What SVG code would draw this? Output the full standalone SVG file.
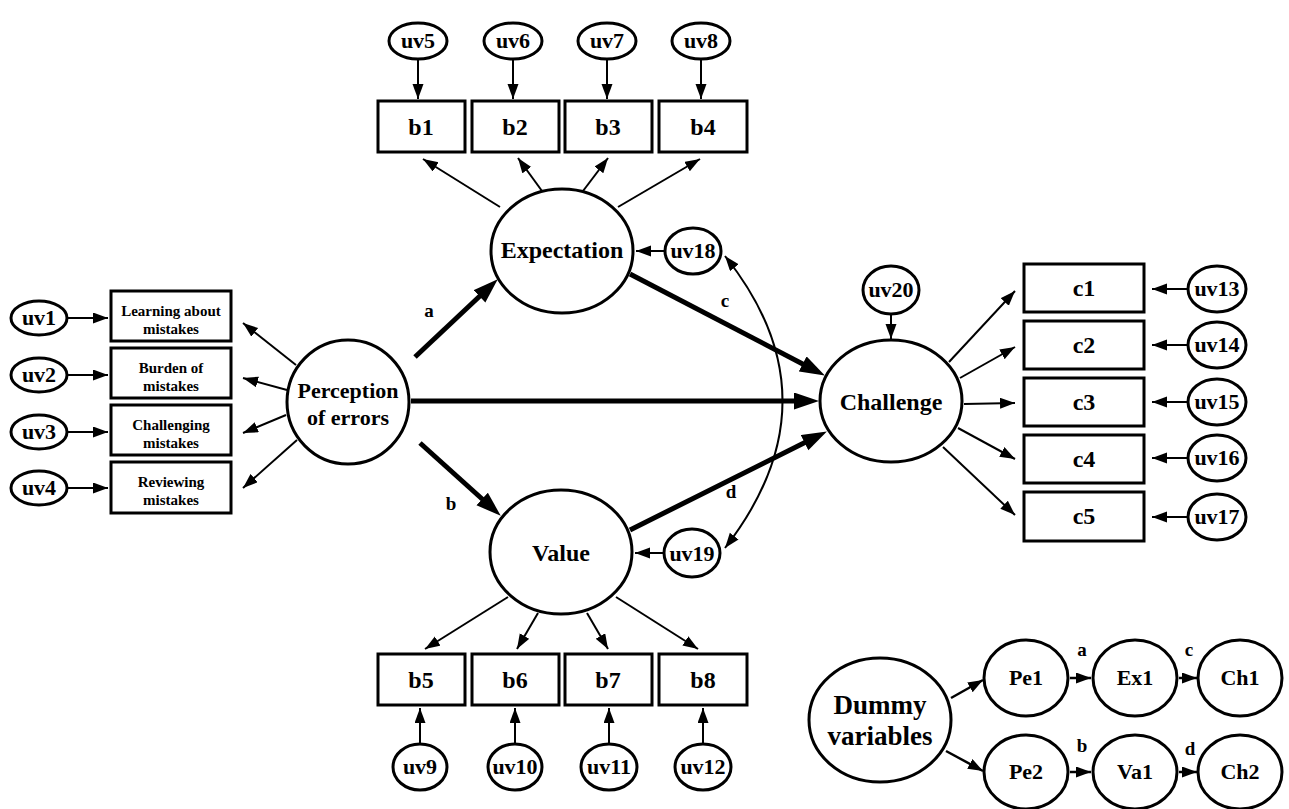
<svg xmlns="http://www.w3.org/2000/svg" width="1289" height="809" viewBox="0 0 1289 809" font-family="'Liberation Serif', 'DejaVu Serif', serif">
<defs>
<marker id="ah" markerUnits="userSpaceOnUse" markerWidth="16" markerHeight="12" refX="15" refY="5.5" orient="auto-start-reverse"><path d="M0,0 L15,5.5 L0,11 z" fill="#000"/></marker>
<marker id="ahk" markerUnits="userSpaceOnUse" markerWidth="26" markerHeight="18" refX="6" refY="8.5" orient="auto"><path d="M0,0 L25,8.5 L0,17 z" fill="#000"/></marker>
</defs>
<style>
.n ellipse,.n rect{fill:#fff;stroke:#000;stroke-width:3}
text{font-family:'Liberation Serif','DejaVu Serif',serif;font-weight:bold;fill:#000;text-anchor:middle}
.uv{font-size:22px}
.ind{font-size:24px}
.lat{font-size:24px}
.sm{font-size:15px}
.lbl{font-size:19px}
.thin{stroke:#000;stroke-width:2;fill:none;marker-end:url(#ah)}
.thick{stroke:#000;stroke-width:5;fill:none;marker-end:url(#ahk)}
.dm{stroke:#000;stroke-width:2.5;fill:none;marker-end:url(#ah)}
</style>
<g id="connectors">
<line class="thin" x1="68" y1="318" x2="108" y2="318"/>
<line class="thin" x1="68" y1="375" x2="108" y2="375"/>
<line class="thin" x1="68" y1="432" x2="108" y2="432"/>
<line class="thin" x1="68" y1="488" x2="108" y2="488"/>
<line class="thin" x1="296" y1="365" x2="243" y2="323"/>
<line class="thin" x1="287" y1="390" x2="243" y2="378"/>
<line class="thin" x1="286" y1="415" x2="243" y2="433"/>
<line class="thin" x1="297" y1="440" x2="243" y2="488"/>
<line class="thin" x1="418" y1="60" x2="418" y2="99"/>
<line class="thin" x1="513" y1="60" x2="513" y2="99"/>
<line class="thin" x1="607" y1="60" x2="607" y2="99"/>
<line class="thin" x1="701" y1="60" x2="701" y2="99"/>
<line class="thin" x1="500" y1="207" x2="423" y2="159"/>
<line class="thin" x1="542" y1="191" x2="518" y2="158"/>
<line class="thin" x1="583" y1="191" x2="608" y2="158"/>
<line class="thin" x1="618" y1="207" x2="700" y2="159"/>
<line class="thin" x1="508" y1="597" x2="425" y2="649"/>
<line class="thin" x1="538" y1="613" x2="517" y2="649"/>
<line class="thin" x1="587" y1="613" x2="608" y2="649"/>
<line class="thin" x1="616" y1="597" x2="698" y2="649"/>
<line class="thin" x1="420" y1="743" x2="420" y2="708"/>
<line class="thin" x1="515" y1="743" x2="515" y2="708"/>
<line class="thin" x1="609" y1="743" x2="609" y2="708"/>
<line class="thin" x1="703" y1="743" x2="703" y2="708"/>
<line class="thin" x1="664" y1="251" x2="636" y2="251"/>
<line class="thin" x1="663" y1="553" x2="635" y2="553"/>
<line class="thin" x1="891" y1="315" x2="891" y2="339"/>
<path d="M725,256 Q840,400 725,548" stroke="#000" stroke-width="2" fill="none" marker-start="url(#ah)" marker-end="url(#ah)"/>
<line class="thick" x1="415" y1="357" x2="483.9" y2="292.3"/>
<line class="thick" x1="420" y1="443" x2="486.6" y2="503"/>
<line class="thick" x1="411" y1="401" x2="800" y2="401"/>
<line class="thick" x1="630" y1="274" x2="808" y2="366.7"/>
<line class="thick" x1="630" y1="530" x2="809.9" y2="440"/>
<line class="thin" x1="949" y1="362" x2="1015" y2="291"/>
<line class="thin" x1="960" y1="378" x2="1015" y2="347"/>
<line class="thin" x1="964" y1="404" x2="1015" y2="403"/>
<line class="thin" x1="958" y1="428" x2="1015" y2="459"/>
<line class="thin" x1="943" y1="447" x2="1015" y2="515"/>
<line class="thin" x1="1187" y1="289" x2="1152" y2="289"/>
<line class="thin" x1="1187" y1="345" x2="1152" y2="345"/>
<line class="thin" x1="1187" y1="402" x2="1152" y2="402"/>
<line class="thin" x1="1187" y1="458" x2="1152" y2="458"/>
<line class="thin" x1="1187" y1="517" x2="1152" y2="517"/>
<line class="dm" x1="951" y1="698" x2="983" y2="680"/>
<line class="dm" x1="946" y1="751" x2="983" y2="771"/>
<line class="dm" x1="1070" y1="678" x2="1091" y2="678"/>
<line class="dm" x1="1179" y1="678" x2="1197" y2="678"/>
<line class="dm" x1="1070" y1="772" x2="1091" y2="772"/>
<line class="dm" x1="1179" y1="772" x2="1197" y2="772"/>
<text class="lbl" x="429" y="317">a</text>
<text class="lbl" x="451" y="510">b</text>
<text class="lbl" x="725" y="307">c</text>
<text class="lbl" x="731" y="498">d</text>
<text class="lbl" x="1082" y="656">a</text>
<text class="lbl" x="1189" y="656">c</text>
<text class="lbl" x="1082" y="752">b</text>
<text class="lbl" x="1190" y="755">d</text>
</g>
<g id="uv1" class="n"><ellipse cx="39" cy="318" rx="28" ry="17"/><text class="uv" x="39" y="325">uv1</text></g>
<g id="uv2" class="n"><ellipse cx="39" cy="375" rx="28" ry="17"/><text class="uv" x="39" y="382">uv2</text></g>
<g id="uv3" class="n"><ellipse cx="39" cy="432" rx="28" ry="17"/><text class="uv" x="39" y="439">uv3</text></g>
<g id="uv4" class="n"><ellipse cx="39" cy="488" rx="28" ry="17"/><text class="uv" x="39" y="495">uv4</text></g>
<g id="learning" class="n"><rect x="111" y="291" width="120" height="50"/><text class="sm" x="171" y="316">Learning about</text><text class="sm" x="171" y="334">mistakes</text></g>
<g id="burden" class="n"><rect x="111" y="348" width="120" height="50"/><text class="sm" x="171" y="373">Burden of</text><text class="sm" x="171" y="391">mistakes</text></g>
<g id="challenging" class="n"><rect x="111" y="405" width="120" height="50"/><text class="sm" x="171" y="430">Challenging</text><text class="sm" x="171" y="448">mistakes</text></g>
<g id="reviewing" class="n"><rect x="111" y="462" width="120" height="51"/><text class="sm" x="171" y="487">Reviewing</text><text class="sm" x="171" y="505">mistakes</text></g>
<g id="perception" class="n"><ellipse cx="348" cy="402" rx="61" ry="62"/><text style="font-size:22px" x="348" y="398">Perception</text><text style="font-size:22px" x="348" y="425">of errors</text></g>
<g id="uv5" class="n"><ellipse cx="418" cy="41" rx="29" ry="18"/><text class="uv" x="418" y="48">uv5</text></g>
<g id="uv6" class="n"><ellipse cx="513" cy="41" rx="29" ry="18"/><text class="uv" x="513" y="48">uv6</text></g>
<g id="uv7" class="n"><ellipse cx="607" cy="41" rx="29" ry="18"/><text class="uv" x="607" y="48">uv7</text></g>
<g id="uv8" class="n"><ellipse cx="701" cy="41" rx="29" ry="18"/><text class="uv" x="701" y="48">uv8</text></g>
<g id="b1" class="n"><rect x="378" y="101" width="87" height="51"/><text class="ind" x="421" y="135">b1</text></g>
<g id="b2" class="n"><rect x="472" y="101" width="87" height="51"/><text class="ind" x="515" y="135">b2</text></g>
<g id="b3" class="n"><rect x="565" y="101" width="87" height="51"/><text class="ind" x="608" y="135">b3</text></g>
<g id="b4" class="n"><rect x="659" y="101" width="88" height="51"/><text class="ind" x="703" y="135">b4</text></g>
<g id="expectation" class="n"><ellipse cx="562" cy="251" rx="71" ry="62"/><text class="lat" x="562" y="258">Expectation</text></g>
<g id="uv18" class="n"><ellipse cx="693" cy="251" rx="28" ry="23"/><text class="uv" x="693" y="258">uv18</text></g>
<g id="value" class="n"><ellipse cx="561" cy="552" rx="71" ry="62"/><text class="lat" x="561" y="561">Value</text></g>
<g id="uv19" class="n"><ellipse cx="692" cy="553" rx="28" ry="24"/><text class="uv" x="692" y="561">uv19</text></g>
<g id="b5" class="n"><rect x="378" y="654" width="87" height="51"/><text class="ind" x="421" y="688">b5</text></g>
<g id="b6" class="n"><rect x="472" y="654" width="87" height="51"/><text class="ind" x="515" y="688">b6</text></g>
<g id="b7" class="n"><rect x="565" y="654" width="87" height="51"/><text class="ind" x="608" y="688">b7</text></g>
<g id="b8" class="n"><rect x="659" y="654" width="88" height="51"/><text class="ind" x="703" y="688">b8</text></g>
<g id="uv9" class="n"><ellipse cx="420" cy="767" rx="27" ry="23"/><text class="uv" x="420" y="774">uv9</text></g>
<g id="uv10" class="n"><ellipse cx="515" cy="767" rx="27" ry="23"/><text class="uv" x="515" y="774">uv10</text></g>
<g id="uv11" class="n"><ellipse cx="609" cy="767" rx="28" ry="23"/><text class="uv" x="609" y="774">uv11</text></g>
<g id="uv12" class="n"><ellipse cx="703" cy="767" rx="28" ry="23"/><text class="uv" x="703" y="774">uv12</text></g>
<g id="challenge" class="n"><ellipse cx="891" cy="401" rx="71" ry="61"/><text class="lat" x="891" y="410">Challenge</text></g>
<g id="uv20" class="n"><ellipse cx="891" cy="290" rx="28" ry="24"/><text class="uv" x="891" y="297">uv20</text></g>
<g id="c1" class="n"><rect x="1024" y="264" width="120" height="48"/><text class="ind" x="1084" y="296">c1</text></g>
<g id="c2" class="n"><rect x="1024" y="321" width="120" height="48"/><text class="ind" x="1084" y="353">c2</text></g>
<g id="c3" class="n"><rect x="1024" y="378" width="120" height="48"/><text class="ind" x="1084" y="410">c3</text></g>
<g id="c4" class="n"><rect x="1024" y="435" width="120" height="48"/><text class="ind" x="1084" y="467">c4</text></g>
<g id="c5" class="n"><rect x="1024" y="492" width="120" height="49"/><text class="ind" x="1084" y="524">c5</text></g>
<g id="uv13" class="n"><ellipse cx="1217" cy="289" rx="29" ry="23"/><text class="uv" x="1217" y="296">uv13</text></g>
<g id="uv14" class="n"><ellipse cx="1217" cy="345" rx="29" ry="23"/><text class="uv" x="1217" y="352">uv14</text></g>
<g id="uv15" class="n"><ellipse cx="1217" cy="402" rx="29" ry="23"/><text class="uv" x="1217" y="409">uv15</text></g>
<g id="uv16" class="n"><ellipse cx="1217" cy="458" rx="29" ry="23"/><text class="uv" x="1217" y="465">uv16</text></g>
<g id="uv17" class="n"><ellipse cx="1217" cy="517" rx="29" ry="23"/><text class="uv" x="1217" y="524">uv17</text></g>
<g id="dummy" class="n"><ellipse cx="880" cy="720" rx="71" ry="62"/><text style="font-size:27px" x="880" y="714">Dummy</text><text style="font-size:27px" x="880" y="745">variables</text></g>
<g id="pe1" class="n"><ellipse cx="1026" cy="678" rx="42" ry="38"/><text class="uv" x="1026" y="685">Pe1</text></g>
<g id="ex1" class="n"><ellipse cx="1135" cy="678" rx="42" ry="38"/><text class="uv" x="1135" y="685">Ex1</text></g>
<g id="ch1" class="n"><ellipse cx="1240" cy="678" rx="42" ry="38"/><text class="uv" x="1240" y="685">Ch1</text></g>
<g id="pe2" class="n"><ellipse cx="1026" cy="772" rx="42" ry="37"/><text class="uv" x="1026" y="779">Pe2</text></g>
<g id="va1" class="n"><ellipse cx="1135" cy="772" rx="42" ry="37"/><text class="uv" x="1135" y="779">Va1</text></g>
<g id="ch2" class="n"><ellipse cx="1240" cy="772" rx="42" ry="37"/><text class="uv" x="1240" y="779">Ch2</text></g>
</svg>
